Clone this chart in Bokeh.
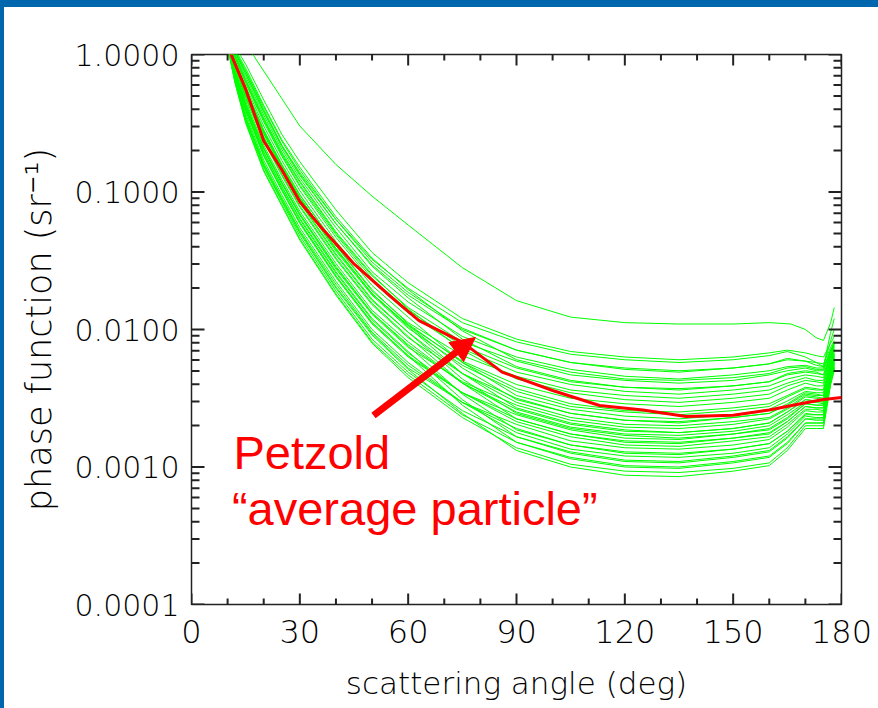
import numpy as np
from bokeh.plotting import figure
from bokeh.models import (FixedTicker, PrintfTickFormatter, LinearAxis, LogAxis, Range1d,
                          Arrow, NormalHead, Label, Div)
from bokeh.layouts import column, row
from bokeh.embed import file_html
from bokeh.resources import INLINE

# ---------------- data ----------------
x_ticks = [0, 30, 60, 90, 120, 150, 180]
x_minor = [10, 20, 40, 50, 70, 80, 100, 110, 130, 140, 160, 170]
y_ticks = [0.0001, 0.001, 0.01, 0.1, 1.0]

# Petzold "average particle" phase function (sr^-1)
petzold_angle = [10, 15, 20, 25, 30, 36, 45, 55, 63, 75, 86, 100, 113, 125, 137, 150, 160, 169, 175, 180]
petzold_value = [1.15, 0.56, 0.235, 0.145, 0.085, 0.055, 0.030, 0.0175, 0.0116, 0.0081, 0.0049,
                 0.0036, 0.0028, 0.0026, 0.00233, 0.00238, 0.0026, 0.0029, 0.0031, 0.0032]

# measured phase functions, stored as log10(sr^-1) at these angles
green_angle = [10, 12, 15, 20, 25, 30, 40, 50, 60, 75, 90, 105, 120, 135, 150, 160, 165, 170, 173, 175, 177, 178]
g01 = [0.14, 0.06, -0.07, -0.33, -0.58, -0.78, -1.13, -1.44, -1.66, -1.92, -2.07, -2.16, -2.20, -2.22, -2.20, -2.17, -2.15, -2.17, -2.19, -2.20, -2.10, -2.05]
g02 = [0.13, 0.03, -0.12, -0.40, -0.66, -0.86, -1.20, -1.49, -1.70, -1.95, -2.09, -2.18, -2.22, -2.24, -2.22, -2.19, -2.16, -2.20, -2.24, -2.27, -2.02, -1.92]
g03 = [0.14, 0.03, -0.12, -0.38, -0.63, -0.84, -1.20, -1.51, -1.73, -1.99, -2.15, -2.24, -2.29, -2.31, -2.28, -2.25, -2.22, -2.23, -2.24, -2.25, -2.13, -2.08]
g04 = [0.12, 0.00, -0.16, -0.44, -0.69, -0.90, -1.26, -1.58, -1.80, -2.05, -2.20, -2.29, -2.34, -2.36, -2.33, -2.30, -2.27, -2.26, -2.28, -2.28, -2.15, -2.09]
g05 = [0.14, 0.04, -0.10, -0.37, -0.62, -0.82, -1.18, -1.48, -1.71, -2.01, -2.22, -2.31, -2.36, -2.37, -2.35, -2.32, -2.28, -2.27, -2.29, -2.29, -2.15, -2.10]
g06 = [0.12, -0.01, -0.19, -0.47, -0.72, -0.93, -1.30, -1.61, -1.84, -2.09, -2.23, -2.33, -2.37, -2.39, -2.37, -2.33, -2.30, -2.28, -2.30, -2.30, -2.16, -2.10]
g07 = [0.13, 0.02, -0.14, -0.41, -0.66, -0.87, -1.23, -1.54, -1.77, -2.07, -2.27, -2.37, -2.42, -2.43, -2.41, -2.38, -2.33, -2.31, -2.32, -2.33, -2.18, -2.11]
g08 = [0.12, -0.02, -0.21, -0.49, -0.74, -0.96, -1.33, -1.65, -1.88, -2.14, -2.31, -2.40, -2.45, -2.47, -2.44, -2.41, -2.36, -2.33, -2.34, -2.35, -2.19, -2.12]
g09 = [0.10, -0.05, -0.25, -0.55, -0.80, -1.02, -1.39, -1.72, -1.95, -2.19, -2.34, -2.44, -2.48, -2.50, -2.47, -2.44, -2.39, -2.35, -2.37, -2.37, -2.20, -2.13]
g10 = [0.13, 0.00, -0.18, -0.46, -0.71, -0.92, -1.29, -1.60, -1.85, -2.15, -2.36, -2.46, -2.51, -2.53, -2.50, -2.47, -2.41, -2.37, -2.38, -2.39, -2.21, -2.14]
g11 = [0.10, -0.07, -0.28, -0.58, -0.83, -1.05, -1.43, -1.75, -1.99, -2.26, -2.45, -2.56, -2.60, -2.62, -2.59, -2.56, -2.49, -2.43, -2.44, -2.44, -2.24, -2.17]
g12 = [0.11, -0.04, -0.23, -0.52, -0.77, -0.99, -1.36, -1.68, -1.91, -2.24, -2.48, -2.58, -2.63, -2.65, -2.62, -2.58, -2.52, -2.45, -2.46, -2.46, -2.25, -2.18]
g13 = [0.09, -0.09, -0.32, -0.63, -0.88, -1.11, -1.49, -1.82, -2.06, -2.32, -2.50, -2.61, -2.66, -2.67, -2.64, -2.61, -2.54, -2.46, -2.47, -2.48, -2.26, -2.18]
g14 = [0.10, -0.08, -0.30, -0.60, -0.85, -1.08, -1.46, -1.79, -2.02, -2.32, -2.53, -2.64, -2.69, -2.70, -2.67, -2.64, -2.57, -2.48, -2.49, -2.50, -2.27, -2.19]
g15 = [0.08, -0.12, -0.37, -0.69, -0.94, -1.17, -1.56, -1.89, -2.13, -2.38, -2.55, -2.66, -2.71, -2.72, -2.69, -2.65, -2.58, -2.49, -2.50, -2.51, -2.28, -2.20]
g16 = [0.11, -0.06, -0.27, -0.57, -0.82, -1.04, -1.42, -1.74, -1.98, -2.32, -2.57, -2.68, -2.73, -2.75, -2.72, -2.68, -2.60, -2.51, -2.52, -2.52, -2.29, -2.21]
g17 = [0.09, -0.11, -0.34, -0.66, -0.91, -1.14, -1.52, -1.86, -2.09, -2.39, -2.60, -2.71, -2.76, -2.77, -2.74, -2.70, -2.62, -2.53, -2.53, -2.54, -2.30, -2.21]
g18 = [0.07, -0.15, -0.41, -0.74, -0.99, -1.23, -1.62, -1.96, -2.20, -2.46, -2.62, -2.73, -2.79, -2.80, -2.76, -2.73, -2.65, -2.54, -2.55, -2.55, -2.30, -2.22]
g19 = [0.10, -0.08, -0.31, -0.62, -0.87, -1.10, -1.48, -1.81, -2.05, -2.39, -2.65, -2.76, -2.81, -2.82, -2.79, -2.75, -2.67, -2.56, -2.57, -2.57, -2.31, -2.23]
g20 = [0.08, -0.13, -0.39, -0.71, -0.96, -1.20, -1.59, -1.93, -2.17, -2.46, -2.67, -2.78, -2.84, -2.85, -2.81, -2.78, -2.69, -2.58, -2.58, -2.59, -2.32, -2.24]
g21 = [0.06, -0.17, -0.46, -0.80, -1.05, -1.29, -1.69, -2.03, -2.28, -2.53, -2.69, -2.81, -2.86, -2.87, -2.84, -2.80, -2.71, -2.59, -2.60, -2.60, -2.33, -2.24]
g22 = [0.09, -0.11, -0.36, -0.68, -0.93, -1.16, -1.55, -1.88, -2.12, -2.47, -2.73, -2.84, -2.90, -2.91, -2.87, -2.83, -2.74, -2.62, -2.62, -2.62, -2.34, -2.25]
g23 = [0.07, -0.16, -0.43, -0.77, -1.02, -1.26, -1.65, -2.00, -2.24, -2.53, -2.75, -2.87, -2.92, -2.93, -2.90, -2.86, -2.76, -2.63, -2.64, -2.64, -2.35, -2.26]
g24 = [0.06, -0.19, -0.48, -0.82, -1.07, -1.32, -1.72, -2.07, -2.31, -2.59, -2.78, -2.90, -2.96, -2.97, -2.93, -2.89, -2.79, -2.65, -2.66, -2.66, -2.36, -2.27]
g25 = [0.08, -0.14, -0.40, -0.73, -0.98, -1.22, -1.61, -1.95, -2.19, -2.55, -2.82, -2.93, -2.99, -3.00, -2.96, -2.92, -2.82, -2.68, -2.68, -2.68, -2.38, -2.28]
g26 = [0.05, -0.20, -0.50, -0.85, -1.10, -1.35, -1.75, -2.10, -2.35, -2.64, -2.86, -2.98, -3.03, -3.04, -3.01, -2.97, -2.86, -2.70, -2.70, -2.70, -2.39, -2.29]
g27 = [0.07, -0.18, -0.47, -0.81, -1.06, -1.30, -1.70, -2.04, -2.29, -2.61, -2.88, -3.00, -3.06, -3.07, -3.03, -2.99, -2.88, -2.72, -2.72, -2.72, -2.40, -2.30]
g28 = [0.12, 0.02, -0.14, -0.42, -0.67, -0.88, -1.23, -1.53, -1.75, -2.00, -2.15, -2.24, -2.28, -2.30, -2.28, -2.25, -2.21, -2.23, -2.26, -2.27, -2.08, -2.00]
g29 = [0.12, -0.02, -0.20, -0.48, -0.73, -0.95, -1.31, -1.63, -1.86, -2.12, -2.28, -2.38, -2.42, -2.44, -2.41, -2.38, -2.32, -2.30, -2.31, -2.33, -2.17, -2.11]
g30 = [0.10, -0.06, -0.27, -0.57, -0.82, -1.04, -1.41, -1.74, -1.97, -2.23, -2.40, -2.50, -2.54, -2.56, -2.53, -2.50, -2.44, -2.39, -2.41, -2.41, -2.22, -2.15]
g31 = [0.11, -0.06, -0.27, -0.56, -0.81, -1.04, -1.41, -1.74, -1.97, -2.28, -2.51, -2.61, -2.66, -2.68, -2.64, -2.61, -2.55, -2.47, -2.48, -2.48, -2.26, -2.19]
g32 = [0.09, -0.12, -0.36, -0.68, -0.93, -1.16, -1.54, -1.88, -2.11, -2.39, -2.58, -2.69, -2.74, -2.75, -2.72, -2.68, -2.60, -2.51, -2.52, -2.53, -2.29, -2.21]
g33 = [0.08, -0.14, -0.40, -0.73, -0.98, -1.22, -1.61, -1.95, -2.19, -2.46, -2.65, -2.76, -2.82, -2.83, -2.79, -2.76, -2.67, -2.56, -2.57, -2.57, -2.31, -2.23]
g34 = [0.07, -0.17, -0.45, -0.79, -1.04, -1.28, -1.67, -2.02, -2.26, -2.53, -2.72, -2.84, -2.89, -2.90, -2.87, -2.83, -2.74, -2.61, -2.62, -2.62, -2.34, -2.25]
g35 = [0.06, -0.20, -0.49, -0.84, -1.09, -1.34, -1.74, -2.09, -2.33, -2.62, -2.82, -2.94, -3.00, -3.01, -2.97, -2.93, -2.83, -2.68, -2.68, -2.68, -2.38, -2.28]
g36 = [0.11, -0.07, -0.29, -0.60, -0.85, -1.07, -1.45, -1.78, -2.02, -2.36, -2.61, -2.72, -2.77, -2.79, -2.76, -2.72, -2.64, -2.54, -2.55, -2.55, -2.30, -2.22]
g37 = [0.11, -0.05, -0.25, -0.55, -0.80, -1.02, -1.39, -1.71, -1.96, -2.24, -2.43, -2.54, -2.59, -2.60, -2.57, -2.54, -2.48, -2.42, -2.43, -2.44, -2.24, -2.16]
g38 = [0.09, -0.13, -0.38, -0.71, -0.96, -1.19, -1.58, -1.92, -2.16, -2.51, -2.78, -2.89, -2.95, -2.96, -2.92, -2.88, -2.78, -2.65, -2.65, -2.65, -2.36, -2.27]

outlier_angle = [10, 15, 17, 20, 25, 30, 40, 50, 60, 75, 90, 105, 120, 135, 150, 160, 166, 170, 173, 175, 177, 178]
outlier_log10 = [0.5, 0.2, 0.0, -0.12, -0.32, -0.52, -0.80, -1.03, -1.24, -1.55, -1.79, -1.91, -1.95, -1.96, -1.96, -1.95, -1.96, -2.00, -2.06, -2.08, -1.95, -1.84]

# annotation anchor points (angle, phase function)
arrow_tail = (50.4, 0.00237)
arrow_tip = (78.6, 0.00875)
label1_pos = (11.6, 0.00127)
label2_pos = (11.2, 0.000499)

green_curves = [g01, g02, g03, g04, g05, g06, g07, g08, g09, g10, g11, g12, g13, g14,
                g15, g16, g17, g18, g19, g20, g21, g22, g23, g24, g25, g26, g27,
                g28, g29, g30, g31, g32, g33, g34, g35, g36, g37, g38]

GREEN = "#00ff00"
RED = "#ff0000"
BLUE = "#0066ae"
TICK_FONT = "'DejaVu Sans Light', 'DejaVu Sans ExtraLight', 'DejaVu Sans'"
INK = "#222222"

FRAME_W, FRAME_H = 650, 550
x_lo, x_hi = 0.0, 180.0
y_lo, y_hi = 1e-4, 1.0

fig = figure(width=874, height=701, x_range=Range1d(x_lo, x_hi), y_range=Range1d(y_lo, y_hi),
             y_axis_type="log", output_backend="svg", toolbar_location=None,
             min_border_left=187, min_border_right=37, min_border_top=47, min_border_bottom=104,
             background_fill_color="white", border_fill_color="white",
             outline_line_color=INK, outline_line_width=1.5)
fig.xgrid.visible = False
fig.ygrid.visible = False

for c in green_curves:
    fig.line(green_angle, 10 ** np.array(c), line_color=GREEN, line_width=1)
fig.line(outlier_angle, 10 ** np.array(outlier_log10), line_color=GREEN, line_width=1)
fig.line(petzold_angle, petzold_value, line_color=RED, line_width=3)

y_minor = [m * 10.0 ** e for e in range(-4, 0) for m in range(2, 10)]

# ---- inward tick marks on all four sides, lengths given in pixels ----
deg_per_px = (x_hi - x_lo) / FRAME_W
dec_per_px = (np.log10(y_hi) - np.log10(y_lo)) / FRAME_H


def xticks_at(xs, length_px):
    xs = np.asarray(xs, float)
    f = 10 ** (length_px * dec_per_px)
    n = len(xs)
    fig.segment(x0=xs, y0=[y_lo] * n, x1=xs, y1=[y_lo * f] * n, line_color=INK, line_width=2)
    fig.segment(x0=xs, y0=[y_hi] * n, x1=xs, y1=[y_hi / f] * n, line_color=INK, line_width=2)


def yticks_at(ys, length_px):
    ys = np.asarray(ys, float)
    d = length_px * deg_per_px
    n = len(ys)
    fig.segment(x0=[x_lo] * n, y0=ys, x1=[x_lo + d] * n, y1=ys, line_color=INK, line_width=2)
    fig.segment(x0=[x_hi] * n, y0=ys, x1=[x_hi - d] * n, y1=ys, line_color=INK, line_width=2)


xticks_at(x_ticks, 11)
xticks_at(x_minor, 6)
yticks_at(y_ticks, 13)
yticks_at(y_minor, 8)


def style(ax, size="30px", labels=True):
    ax.major_tick_in = 0
    ax.major_tick_out = 0
    ax.minor_tick_in = 0
    ax.minor_tick_out = 0
    ax.axis_line_color = None
    ax.major_tick_line_color = None
    ax.minor_tick_line_color = None
    ax.major_label_text_font = TICK_FONT
    ax.major_label_text_color = "#000000"
    ax.axis_label_text_font = TICK_FONT
    ax.axis_label_text_font_style = "normal"
    ax.axis_label_text_color = "#000000"
    ax.major_label_text_font_size = size if labels else "0px"


xa = fig.xaxis[0]
xa.ticker = FixedTicker(ticks=x_ticks, minor_ticks=x_minor)
style(xa, "32px")
xa.major_label_standoff = 15
xa.axis_label = "scattering angle (deg)"
xa.axis_label_text_font_size = "31px"
xa.axis_label_standoff = 19

ya = fig.yaxis[0]
ya.ticker = FixedTicker(ticks=y_ticks, minor_ticks=y_minor)
ya.formatter = PrintfTickFormatter(format="%.4f")
style(ya, "30px")
ya.major_label_standoff = 12
ya.axis_label = "phase function (sr\u207b\u00b9)"
ya.axis_label_text_font_size = "35px"
ya.axis_label_standoff = 13

top = LinearAxis(ticker=FixedTicker(ticks=x_ticks, minor_ticks=x_minor),
                 formatter=PrintfTickFormatter(format=""))
style(top, labels=False)
fig.add_layout(top, "above")

right = LogAxis(ticker=FixedTicker(ticks=y_ticks, minor_ticks=y_minor),
                formatter=PrintfTickFormatter(format=""))
style(right, labels=False)
fig.add_layout(right, "right")

fig.add_layout(Arrow(end=NormalHead(size=24, fill_color=RED, line_color=RED, line_width=1),
                     x_start=arrow_tail[0], y_start=arrow_tail[1],
                     x_end=arrow_tip[0], y_end=arrow_tip[1],
                     line_color=RED, line_width=7))

fig.add_layout(Label(x=label1_pos[0], y=label1_pos[1], text="Petzold",
                     text_font="Liberation Sans", text_font_size="47px", text_color=RED,
                     text_baseline="alphabetic", text_align="left"))
fig.add_layout(Label(x=label2_pos[0], y=label2_pos[1], text="\u201caverage particle\u201d",
                     text_font="Liberation Sans", text_font_size="47px", text_color=RED,
                     text_baseline="alphabetic", text_align="left"))

top_bar = Div(text="", width=878, height=7, margin=0,
              styles={"background-color": BLUE, "overflow": "hidden"})
left_bar = Div(text="", width=4, height=701, margin=0,
               styles={"background-color": BLUE, "overflow": "hidden"})

p = column(top_bar, row(left_bar, fig, spacing=0, margin=0), spacing=0, margin=0)

open("out.html", "w").write(file_html(p, INLINE))
